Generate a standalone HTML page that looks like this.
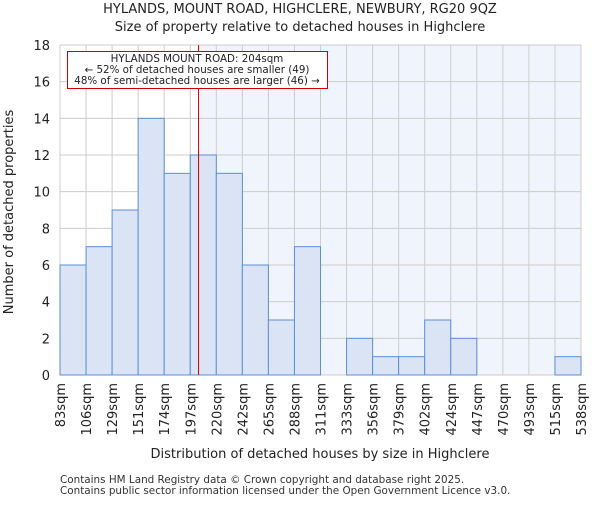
<!DOCTYPE html>
<html><head><style>body{margin:0;background:#fff}svg text{font-family:"DejaVu Sans","Liberation Sans",sans-serif}</style></head>
<body>
<svg id="c" width="600" height="500" xmlns="http://www.w3.org/2000/svg"></svg>
<script>
const categories=["83sqm","106sqm","129sqm","151sqm","174sqm","197sqm","220sqm","242sqm","265sqm","288sqm","311sqm","333sqm","356sqm","379sqm","402sqm","424sqm","447sqm","470sqm","493sqm","515sqm","538sqm"];
const counts=[6,7,9,14,11,12,11,6,3,7,0,2,1,1,3,2,0,0,0,1];
const yTicks=[0,2,4,6,8,10,12,14,16,18];
const binStart=83, binEnd=538, propertySize=204;
const L=60,R=581,T=45,B=375;
const x=v=>L+(v-binStart)/(binEnd-binStart)*(R-L);
const xi=i=>L+i*(R-L)/counts.length;
const y=v=>B-v/18*(B-T);
const s=document.getElementById('c');const NS="http://www.w3.org/2000/svg";
function mk(t,a,txt){const e=document.createElementNS(NS,t);for(const k in a)e.setAttribute(k,a[k]);if(txt!==undefined)e.textContent=txt;s.appendChild(e);return e;}
let e;
e=mk('rect',{x:x(propertySize),y:T,width:R-x(propertySize),height:B-T,fill:'#f0f4fd'});


for(let i=0;i<=counts.length;i++){e=mk('line',{x1:xi(i),x2:xi(i),y1:T,y2:B,stroke:'#cccccc','stroke-width':1});

}
yTicks.forEach(t=>{e=mk('line',{x1:L,x2:R,y1:y(t),y2:y(t),stroke:'#cccccc','stroke-width':1});


e=mk('text',{x:L-10,y:y(t)+5,'text-anchor':'end','font-size':13,fill:'#222'},t);

});
counts.forEach((c,i)=>{if(c>0){e=mk('rect',{x:xi(i),y:y(c),width:xi(i+1)-xi(i),height:B-y(c),fill:'#dae4f4',stroke:'#5b8fd6','stroke-width':1});

}});
categories.forEach((c,i)=>{e=mk('text',{transform:`translate(${xi(i)+5},383) rotate(-90)`,'text-anchor':'end','font-size':13,fill:'#222'},c);

});
e=mk('line',{x1:x(propertySize),x2:x(propertySize),y1:T,y2:B,stroke:'#cc0000','stroke-width':1});


e=mk('rect',{x:67.5,y:51.5,width:260,height:37,fill:'#fff',stroke:'#cc0000','stroke-width':1});


[["HYLANDS MOUNT ROAD: 204sqm",62],["← 52% of detached houses are smaller (49)",73],["48% of semi-detached houses are larger (46) →",84]].forEach(a=>{e=mk('text',{x:197,y:a[1],'text-anchor':'middle','font-size':10.3,fill:'#222'},a[0]);

});
e=mk('text',{x:300,y:13,'text-anchor':'middle','font-size':13,fill:'#222'},"HYLANDS, MOUNT ROAD, HIGHCLERE, NEWBURY, RG20 9QZ");


e=mk('text',{x:300,y:31,'text-anchor':'middle','font-size':13,fill:'#222'},"Size of property relative to detached houses in Highclere");


e=mk('text',{x:320,y:458,'text-anchor':'middle','font-size':13,fill:'#222'},"Distribution of detached houses by size in Highclere");


e=mk('text',{transform:'translate(13,212) rotate(-90)','text-anchor':'middle','font-size':13,fill:'#222'},"Number of detached properties");


e=mk('text',{x:60,y:483,'font-size':10.4,fill:'#333'},"Contains HM Land Registry data © Crown copyright and database right 2025.");


e=mk('text',{x:60,y:494,'font-size':10.4,fill:'#333'},"Contains public sector information licensed under the Open Government Licence v3.0.");


</script>
</body></html>
